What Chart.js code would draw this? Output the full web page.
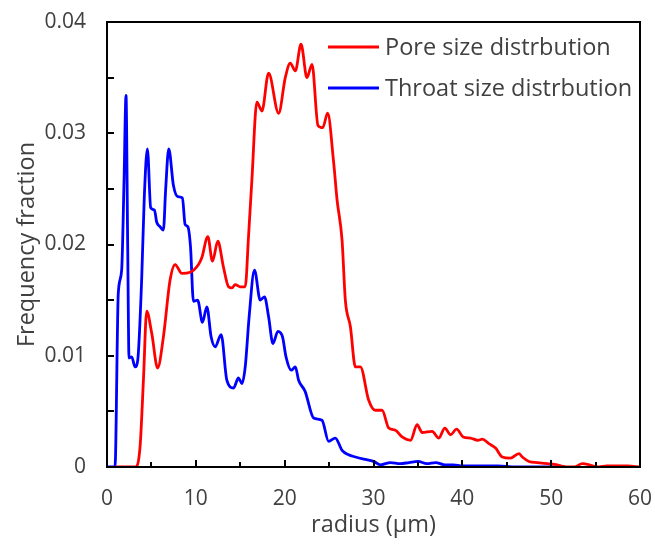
<!DOCTYPE html>
<html>
<head>
<meta charset="utf-8">
<script src="https://cdn.jsdelivr.net/npm/chart.js@4.4.1/dist/chart.umd.min.js"></script>
<style>
	html, body { margin: 0; padding: 0; background: #fff; }
	#wrap { width: 655px; height: 547px; position: relative; }
</style>
</head>
<body>
<div id="wrap"><canvas id="psd"></canvas></div>
<script>
// ─── Data ───────────────────────────────────────
const seriesLabels = ["Pore size distrbution", "Throat size distrbution"];

const poreX = [0.9, 3.2, 3.72, 4.1, 4.47, 5.04, 5.7, 6.35, 7.1, 7.67, 8.42, 9.36, 10.3, 10.67, 11.35, 11.87, 12.48, 13.1, 13.68, 14.06,
	14.43, 15.0, 15.56, 15.93, 16.31, 16.87, 17.44, 18.19, 19.32, 20.07, 20.63, 21.2, 21.84, 22.51, 23.08, 23.75, 24.28, 24.84, 25.5, 25.9,
	26.46, 26.83, 27.4, 27.96, 28.52, 29.46, 30.2, 30.97, 31.71, 32.47, 33.22, 34.16, 34.91, 35.48, 36.6, 37.35, 38.03, 38.67, 39.35, 40.1,
	40.92, 41.75, 42.24, 42.99, 43.74, 44.5, 45.4, 46.37, 46.75, 47.5, 48.44, 49.57, 50.7, 51.6, 52.6, 53.5, 54.3, 55.2, 56.3, 57.5, 58.6, 60];
const poreY = [0, 0, 0.0018, 0.0078, 0.014, 0.012, 0.0089, 0.0117, 0.0168, 0.0182, 0.0174, 0.0175, 0.0182, 0.0188, 0.0207, 0.0185, 0.0203, 0.018, 0.0162, 0.0161,
	0.0164, 0.0162, 0.0162, 0.0207, 0.0258, 0.0328, 0.032, 0.0354, 0.0318, 0.035, 0.0363, 0.0356, 0.038, 0.035, 0.0362, 0.0307, 0.0305, 0.0318, 0.0275, 0.024,
	0.0204, 0.015, 0.0126, 0.009, 0.009, 0.006, 0.0051, 0.0051, 0.0035, 0.0033, 0.0027, 0.0024, 0.0038, 0.0031, 0.0032, 0.0026, 0.0035, 0.0029, 0.0034, 0.0027,
	0.0026, 0.0024, 0.0025, 0.0021, 0.0017, 0.0009, 0.0008, 0.0012, 0.0009, 0.0005, 0.0004, 0.0003, 0.0002, 0, 0, 0.0003, 0.0002, 0, 0.0001, 0.0001, 0.0001, 0];

const throatX = [0, 0.9, 1.27, 1.65, 1.92, 2.14, 2.33, 2.48, 2.78, 3.16, 3.46, 3.9, 4.2, 4.55, 4.92, 5.34, 5.6, 5.97, 6.35, 6.6,
	6.95, 7.48, 7.97, 8.49, 8.79, 9.1, 9.4, 9.73, 10.2, 10.75, 11.24, 11.72, 12.17, 12.85, 13.49, 14.24, 14.8, 15.19, 15.56, 16.0,
	16.6, 17.25, 17.73, 18.19, 18.68, 19.24, 19.76, 20.15, 20.74, 21.2, 21.57, 22.3, 23.26, 24.2, 24.95, 25.7, 26.46, 27.2, 27.96, 28.9,
	30.0, 30.8, 31.9, 33.0, 34.0, 35.0, 36.0, 37.0, 38.0, 39.0, 40.0, 42.0, 44.0, 46.0, 48.0, 51.6];
const throatY = [0, 0, 0.0156, 0.0177, 0.0258, 0.0334, 0.0198, 0.0098, 0.0099, 0.009, 0.0096, 0.0168, 0.0243, 0.0286, 0.0233, 0.0231, 0.022, 0.0216, 0.0213, 0.0249,
	0.0286, 0.0253, 0.0243, 0.0242, 0.0218, 0.0216, 0.0198, 0.0149, 0.015, 0.013, 0.0144, 0.0117, 0.0108, 0.0119, 0.0078, 0.0071, 0.008, 0.0075, 0.009, 0.0135,
	0.0177, 0.015, 0.0153, 0.0135, 0.0111, 0.0122, 0.0117, 0.0099, 0.0087, 0.009, 0.0078, 0.0068, 0.0044, 0.0042, 0.0023, 0.0026, 0.0015, 0.0011, 0.0009, 0.0007,
	0.0005, 0.0002, 0.0004, 0.0003, 0.0004, 0.0005, 0.0003, 0.0004, 0.0002, 0.0002, 0.0001, 0.0001, 0.0001, 0, 0, 0];

const xTickStep = 10, xMinorStep = 5;
const yTickStep = 0.01, yMinorStep = 0.005;

// ─── Helpers ───────────────────────────────────
const toPoints = (xs, ys) => xs.map((x, i) => ({ x, y: ys[i] }));
const TEXT = "#404040";
const FONT = "'Open Sans', sans-serif";
const TICK_SIZE = 21;
const LABEL_SIZE = 23.5;
const LINE_W = 2.8;

// frame + inward ticks, like the Excel original
const framePlugin = {
	id: "frame",
	afterDatasetsDraw(chart) {
		const { ctx, chartArea: a, scales } = chart;
		ctx.save();
		ctx.strokeStyle = "#000";
		ctx.lineWidth = 2;
		ctx.strokeRect(a.left, a.top, a.right - a.left, a.bottom - a.top);

		ctx.beginPath();
		for (let v = 0; v <= scales.x.max + 1e-9; v += xMinorStep) {
			const px = Math.round(scales.x.getPixelForValue(v));
			const len = v % xTickStep === 0 ? 7 : 5;
			ctx.moveTo(px, a.bottom);
			ctx.lineTo(px, a.bottom - len);
		}
		for (let v = 0; v <= scales.y.max + 1e-9; v += yMinorStep) {
			const py = Math.round(scales.y.getPixelForValue(v));
			ctx.moveTo(a.left, py);
			ctx.lineTo(a.left + 7, py);
		}
		ctx.stroke();
		ctx.restore();
	},
	afterDraw(chart) {
		// legend inside the plot, top right
		const { ctx } = chart;
		ctx.save();
		ctx.font = LABEL_SIZE + "px " + FONT;
		ctx.textBaseline = "middle";
		chart.data.datasets.forEach((ds, i) => {
			const y = 47 + i * 41;
			ctx.strokeStyle = ds.borderColor;
			ctx.lineWidth = LINE_W;
			ctx.beginPath();
			ctx.moveTo(328, y);
			ctx.lineTo(379, y);
			ctx.stroke();
			ctx.fillStyle = TEXT;
			ctx.fillText(ds.label, 385, y + 1);
		});
		ctx.restore();
	},
};

new Chart(document.getElementById("psd"), {
	type: "line",
	data: {
		datasets: [
			{
				label: seriesLabels[0],
				data: toPoints(poreX, poreY),
				borderColor: "#ff0000",
				borderWidth: LINE_W,
				pointRadius: 0,
				cubicInterpolationMode: "monotone",
				fill: false,
			},
			{
				label: seriesLabels[1],
				data: toPoints(throatX, throatY),
				borderColor: "#0000ff",
				borderWidth: LINE_W,
				pointRadius: 0,
				cubicInterpolationMode: "monotone",
				fill: false,
			},
		],
	},
	options: {
		responsive: true,
		maintainAspectRatio: false,
		animation: false,
		layout: { padding: { top: 22, right: 15, left: 0, bottom: 0 } },
		plugins: { legend: { display: false }, tooltip: { enabled: false } },
		scales: {
			x: {
				type: "linear",
				min: 0,
				max: 60,
				grid: { display: false, drawTicks: false },
				border: { display: false },
				ticks: { stepSize: xTickStep, padding: 19, color: TEXT, font: { family: FONT, size: TICK_SIZE }, maxRotation: 0 },
				title: { display: true, text: "radius (μm)", color: TEXT, font: { family: FONT, size: LABEL_SIZE }, padding: { top: 0, bottom: 8 } },
				afterFit: (s) => {
					s.height = 80;
					s.paddingLeft = 0;
					s.paddingRight = 0;
				},
			},
			y: {
				min: 0,
				max: 0.04,
				grid: { display: false, drawTicks: false },
				border: { display: false },
				ticks: {
					stepSize: yTickStep,
					padding: 21,
					color: TEXT,
					font: { family: FONT, size: TICK_SIZE },
					callback: (v) => (v === 0 ? "0" : v.toFixed(2)),
				},
				title: { display: true, text: "Frequency fraction", color: TEXT, font: { family: FONT, size: LABEL_SIZE }, padding: { top: 13, bottom: 0 } },
				afterFit: (s) => {
					s.width = 107;
					s.paddingTop = 0;
					s.paddingBottom = 0;
				},
			},
		},
	},
	plugins: [framePlugin],
});
</script>
</body>
</html>
